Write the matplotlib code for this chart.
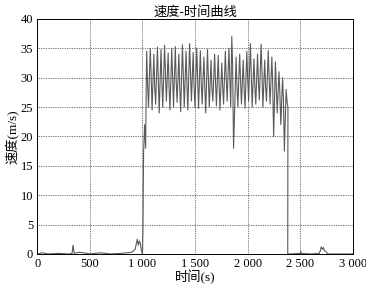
import matplotlib
matplotlib.use("Agg")
import matplotlib.pyplot as plt
import numpy as np

plt.rcParams['font.family'] = ['Liberation Serif', 'Noto Sans CJK SC']

# ---- data ----
pre_time = [0, 50, 100, 200, 300, 330, 340, 350, 400, 500, 600, 700, 800, 900, 930,
            950, 960, 970, 980, 990, 1000, 1005, 1010, 1020, 1025, 1030, 1035]
pre_speed = [0, 0.2, 0, 0.1, 0, 0.1, 1.5, 0.1, 0.3, 0, 0.2, 0, 0.1, 0.3, 0.8,
             2.5, 1.5, 2.2, 1.8, 0.5, 0, 5, 17, 22, 20, 18, 28]

peak_time = [1040, 1074, 1108, 1142, 1176, 1210, 1244, 1278, 1312, 1346, 1380, 1414, 1448, 1482,
             1516, 1550, 1584, 1618, 1652, 1686, 1720, 1754, 1788, 1822, 1849, 1890, 1924, 1958,
             1992, 2026, 2060, 2094, 2128, 2162, 2196, 2230, 2264, 2298, 2332, 2366]
peak_speed = [34.5, 35.0, 34.0, 35.2, 34.8, 35.5, 34.2, 35.0, 35.3, 34.0, 35.6, 34.5, 35.8, 34.3,
              35.0, 34.6, 33.5, 34.8, 33.0, 34.0, 33.8, 32.5, 34.5, 35.0, 37.0, 33.5, 34.0, 33.0,
              34.5, 35.8, 33.2, 34.0, 35.7, 33.0, 34.6, 33.5, 32.7, 31.0, 30.0, 28.0]
mid_speed = [29.0, 30.5, 28.5, 30.0, 29.5, 31.0, 28.8, 30.2, 29.6, 28.4, 30.8, 29.2, 31.0, 28.7,
             30.0, 29.5, 28.6, 30.1, 28.2, 29.4, 29.0, 28.5, 30.2, 30.0, 32.0, 28.8, 29.6, 28.4,
             30.0, 31.0, 28.8, 29.5, 31.0, 28.6, 30.0, 29.0, 28.5, 27.5, 26.5, 26.0]
trough_speed = [25.0, 24.5, 25.5, 24.0, 25.0, 26.0, 24.5, 25.0, 25.8, 24.2, 25.0, 24.5, 26.0, 25.0,
                24.8, 25.5, 24.0, 25.0, 26.0, 25.2, 24.5, 25.5, 26.0, 25.0, 18.0, 25.0, 25.5, 24.8,
                26.0, 25.0, 25.5, 26.2, 25.0, 26.0, 25.5, 20.0, 24.0, 22.0, 17.5, 25.0]

post_time = [2381, 2400, 2500, 2505, 2510, 2600, 2680, 2690, 2700, 2710, 2720, 2730, 2750, 2760, 2850, 3000]
post_speed = [0, 0, 0.1, 0.4, 0.1, 0, 0.1, 0.5, 1.2, 0.8, 1.1, 0.6, 0.3, 0, 0, 0]

xtick_vals = [0, 500, 1000, 1500, 2000, 2500, 3000]
xtick_labels = ['0', '500', '1 000', '1 500', '2 000', '2 500', '3 000']
ytick_vals = [0, 5, 10, 15, 20, 25, 30, 35, 40]

# ---- assemble the series ----
time = list(pre_time)
speed = list(pre_speed)
for i in range(len(peak_time)):
    time += [peak_time[i], peak_time[i] + 8, peak_time[i] + 17]
    speed += [peak_speed[i], mid_speed[i], trough_speed[i]]
time += post_time
speed += post_speed

fig = plt.figure(figsize=(3.66, 2.86), dpi=100)
ax = fig.add_axes([0.102, 0.112, 0.862, 0.822])
ax.plot(time, speed, color='#5a5a5a', lw=0.8)

ax.set_xlim(0, 3000)
ax.set_ylim(0, 40)
ax.set_xticks(xtick_vals)
ax.set_xticklabels(xtick_labels)
ax.set_yticks(ytick_vals)
ax.tick_params(length=0, labelsize=9, pad=3)
ax.grid(True, color='black', linestyle=(0, (1, 1.5)), linewidth=0.5)
for s in ax.spines.values():
    s.set_linewidth(0.7)

ax.set_title('速度-时间曲线', fontsize=9.5, pad=2)
ax.set_xlabel('时间(s)', fontsize=9.5, labelpad=0)
ax.set_ylabel('速度(m/s)', fontsize=9.5, labelpad=1)

fig.savefig('out.png', dpi=100)
